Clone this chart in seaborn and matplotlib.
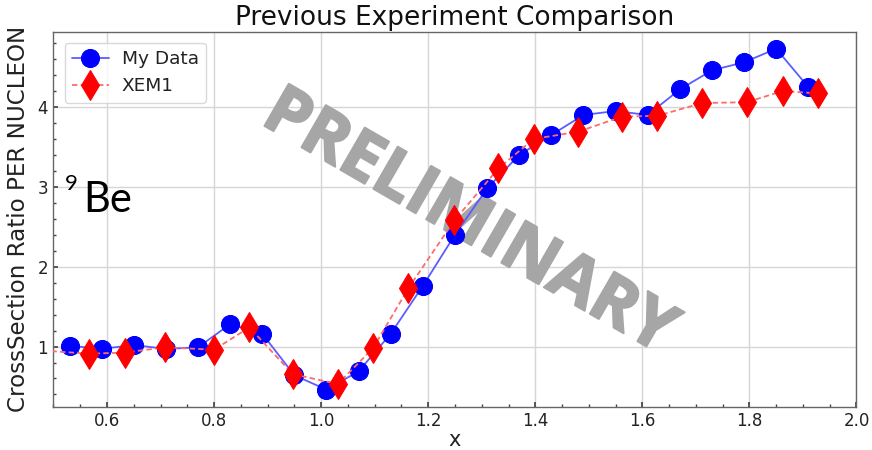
import matplotlib
matplotlib.use("Agg")
import matplotlib.pyplot as plt
import matplotlib.patheffects as pe
import seaborn as sns
import pandas as pd

# My Data: cross-section ratio per nucleon for 9Be
my_x = [0.53, 0.59, 0.65, 0.71, 0.77, 0.83, 0.89, 0.95, 1.01, 1.07, 1.13, 1.19,
        1.25, 1.31, 1.37, 1.43, 1.49, 1.55, 1.61, 1.67, 1.73, 1.79, 1.85, 1.91]
my_y = [1.01, 0.97, 1.02, 0.97, 0.99, 1.28, 1.16, 0.64, 0.46, 0.69, 1.16, 1.76,
        2.40, 2.98, 3.40, 3.65, 3.90, 3.95, 3.90, 4.22, 4.46, 4.56, 4.73, 4.25]

# XEM1 published ratios
xem_x = [0.48, 0.567, 0.633, 0.709, 0.80, 0.866, 0.947, 1.031, 1.097, 1.163,
         1.249, 1.331, 1.397, 1.48, 1.562, 1.628, 1.712, 1.795, 1.862, 1.928]
xem_y = [0.95, 0.91, 0.925, 0.99, 0.96, 1.24, 0.655, 0.53, 0.98, 1.73,
         2.58, 3.23, 3.60, 3.69, 3.88, 3.89, 4.05, 4.06, 4.20, 4.17]

x_ticks = [0.6, 0.8, 1.0, 1.2, 1.4, 1.6, 1.8, 2.0]
y_ticks = [1, 2, 3, 4]

mine = pd.DataFrame({"x": my_x, "ratio": my_y})
xem = pd.DataFrame({"x": xem_x, "ratio": xem_y})

sns.set_theme(style="whitegrid")
plt.rcParams.update({
    "font.family": ["DejaVu Sans"],
    "axes.edgecolor": "#666666",
    "axes.linewidth": 1.0,
    "grid.color": "#d6d6d6",
    "grid.linewidth": 1.0,
    "xtick.direction": "in",
    "ytick.direction": "in",
    "xtick.bottom": True,
    "ytick.left": True,
    "xtick.color": "#444444",
    "ytick.color": "#444444",
    "xtick.labelcolor": "#222222",
    "ytick.labelcolor": "#222222",
    "xtick.major.size": 3.5,
    "ytick.major.size": 3.5,
    "xtick.minor.size": 2,
    "ytick.minor.size": 2,
    "xtick.minor.visible": True,
    "ytick.minor.visible": True,
    "lines.dashed_pattern": (3.0, 1.8),
})

fig = plt.figure(figsize=(8.72, 4.5), dpi=100)
ax = fig.add_axes([0.0613, 0.0962, 0.9209, 0.8334])

sns.lineplot(data=mine, x="x", y="ratio", ax=ax, label="My Data",
             color="#5c5cff", lw=1.3, marker="o", markersize=13,
             markerfacecolor="blue", markeredgecolor="blue", zorder=3)
sns.lineplot(data=xem, x="x", y="ratio", ax=ax, label="XEM1",
             color="#ff6b6b", lw=1.3, ls="--", marker="d", markersize=15,
             markerfacecolor="red", markeredgecolor="red", zorder=4)

ax.set_xlim(0.5, 2.0)
ax.set_xticks(x_ticks)
ax.set_yticks(y_ticks)
ax.tick_params(axis="both", which="major", labelsize=12, pad=4)
ax.grid(True, which="major")
ax.grid(False, which="minor")
for s in ax.spines.values():
    s.set_visible(True)
    s.set_color("#666666")

ax.set_title("Previous Experiment Comparison", fontsize=19, pad=5, color="#111111")
ax.set_xlabel("x", fontsize=15, labelpad=0, color="#222222")
ax.set_ylabel("CrossSection Ratio PER NUCLEON", fontsize=16.6, labelpad=5, color="#222222")

leg = ax.legend(loc="upper left", fontsize=13.3, frameon=True, fancybox=True,
                borderpad=0.4, labelspacing=0.5, handletextpad=0.7,
                borderaxespad=0.6)
leg.get_frame().set_edgecolor("#d0d0d0")
leg.get_frame().set_linewidth(1.0)
for t in leg.get_texts():
    t.set_color("#222222")

# Nucleus label
ax.text(0.0143, 0.578, "9", transform=ax.transAxes, fontsize=16,
        family=["Lato", "DejaVu Sans"], color="black", ha="left", va="baseline")
ax.text(0.037, 0.519, "Be", transform=ax.transAxes, fontsize=30,
        family=["Lato", "DejaVu Sans"], color="black", ha="left", va="baseline")

# Watermark, slightly thickened with a rounded outline in the same grey
wm = ax.text(0.517, 0.49, "PRELIMINARY", transform=ax.transAxes, fontsize=49,
             family=["Open Sans", "DejaVu Sans"], fontweight="bold", color="#a6a6a6",
             rotation=-30, rotation_mode="anchor", ha="center", va="center",
             zorder=1)
wm.set_path_effects([pe.withStroke(linewidth=1.5, foreground="#a6a6a6",
                                   joinstyle="round", capstyle="round")])

fig.savefig("out.png", dpi=100)
